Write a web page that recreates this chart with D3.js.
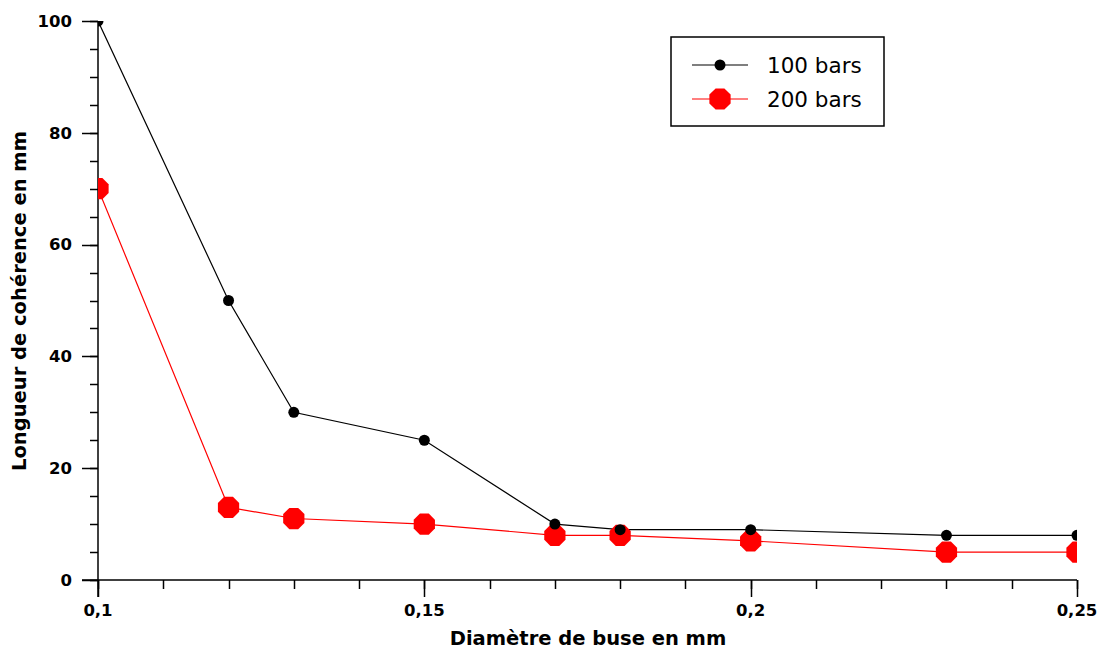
<!DOCTYPE html>
<html><head><meta charset="utf-8">
<script src="https://cdn.jsdelivr.net/npm/d3@7"></script>
<style>body{margin:0;background:#fff}svg{display:block}</style>
</head><body>
<svg id="c" width="1101" height="653"></svg>
<script>
const xValues = [0.1, 0.12, 0.13, 0.15, 0.17, 0.18, 0.2, 0.23, 0.25];
const series100 = [100, 50, 30, 25, 10, 9, 9, 8, 8];
const series200 = [70, 13, 11, 10, 8, 8, 7, 5, 5];
const seriesNames = ["100 bars", "200 bars"];
const xTickValues = [0.1, 0.15, 0.2, 0.25];
const xTickLabels = ["0,1", "0,15", "0,2", "0,25"];
const yTickValues = [0, 20, 40, 60, 80, 100];
const xTitle = "Diamètre de buse en mm";
const yTitle = "Longueur de cohérence en mm";

const svg = d3.select("#c");
const L = 98, R = 1077, T = 21, B = 580;
const x = d3.scaleLinear().domain([0.1, 0.25]).range([L, R]);
const y = d3.scaleLinear().domain([0, 100]).range([B, T]);
const tickFont = "'DejaVu Sans', Verdana, sans-serif";

// minor ticks
const xMinor = d3.range(0, 16).map(i => 0.1 + i * 0.01);
const yMinor = d3.range(0, 21).map(i => i * 5);

const gx = svg.append("g").attr("transform", `translate(0,${B})`);
gx.append("line").attr("x1", L - 16).attr("x2", R).attr("y1", 0).attr("y2", 0).attr("stroke", "#000").attr("stroke-width", 1.5);
gx.selectAll("line.mn").data(xMinor).join("line").attr("class", "mn")
  .attr("x1", d => Math.round(x(d)) + 0.5).attr("x2", d => Math.round(x(d)) + 0.5)
  .attr("y1", 0).attr("y2", 9).attr("stroke", "#000").attr("stroke-width", 1.5);
gx.selectAll("line.mj").data(xTickValues).join("line").attr("class", "mj")
  .attr("x1", d => Math.round(x(d)) + 0.5).attr("x2", d => Math.round(x(d)) + 0.5)
  .attr("y1", 0).attr("y2", 17).attr("stroke", "#000").attr("stroke-width", 1.5);
gx.selectAll("text").data(xTickValues).join("text")
  .attr("x", d => x(d)).attr("y", 36).attr("text-anchor", "middle")
  .attr("font-family", tickFont).attr("font-weight", "bold").attr("font-size", 16.5)
  .text((d, i) => xTickLabels[i]);

const gy = svg.append("g").attr("transform", `translate(${L},0)`);
gy.append("line").attr("x1", 0).attr("x2", 0).attr("y1", T).attr("y2", B + 17).attr("stroke", "#000").attr("stroke-width", 1.5);
gy.selectAll("line.mn").data(yMinor).join("line").attr("class", "mn")
  .attr("y1", d => Math.round(y(d)) + 0.5).attr("y2", d => Math.round(y(d)) + 0.5)
  .attr("x1", 0).attr("x2", -8).attr("stroke", "#000").attr("stroke-width", 1.5);
gy.selectAll("line.mj").data(yTickValues).join("line").attr("class", "mj")
  .attr("y1", d => Math.round(y(d)) + 0.5).attr("y2", d => Math.round(y(d)) + 0.5)
  .attr("x1", 0).attr("x2", -16).attr("stroke", "#000").attr("stroke-width", 1.5);
gy.selectAll("text").data(yTickValues).join("text")
  .attr("x", -26).attr("y", d => y(d)).attr("dy", "0.35em").attr("text-anchor", "end")
  .attr("font-family", tickFont).attr("font-weight", "bold").attr("font-size", 16.5)
  .text(d => d);

svg.append("text").attr("x", 588).attr("y", 645).attr("text-anchor", "middle")
  .attr("font-family", tickFont).attr("font-weight", "bold").attr("font-size", 19.5).text(xTitle);
svg.append("text").attr("transform", "translate(26,301) rotate(-90)").attr("text-anchor", "middle")
  .attr("font-family", tickFont).attr("font-weight", "bold").attr("font-size", 19.5).text(yTitle);

svg.append("clipPath").attr("id", "clip").append("rect")
  .attr("x", L).attr("y", T).attr("width", R - L).attr("height", B - T);
const plot = svg.append("g").attr("clip-path", "url(#clip)");

function octagon(r) {
  const pts = d3.range(8).map(i => {
    const a = Math.PI / 8 + i * Math.PI / 4;
    return [r * Math.cos(a), r * Math.sin(a)];
  });
  return "M" + pts.map(p => p.join(",")).join("L") + "Z";
}
const line = d3.line().x(d => x(d[0])).y(d => y(d[1]));
const data200 = xValues.map((v, i) => [v, series200[i]]);
const data100 = xValues.map((v, i) => [v, series100[i]]);

plot.append("path").datum(data200).attr("d", line).attr("fill", "none").attr("stroke", "#ff0000").attr("stroke-width", 1.2);
plot.append("path").datum(data100).attr("d", line).attr("fill", "none").attr("stroke", "#000").attr("stroke-width", 1.2);
plot.selectAll("path.m200").data(data200).join("path").attr("class", "m200")
  .attr("transform", d => `translate(${x(d[0])},${y(d[1])})`).attr("d", octagon(11.5)).attr("fill", "#ff0000");
plot.selectAll("circle.m100").data(data100).join("circle").attr("class", "m100")
  .attr("cx", d => x(d[0])).attr("cy", d => y(d[1])).attr("r", 5.5).attr("fill", "#000");

// legend
const lg = svg.append("g");
lg.append("rect").attr("x", 671).attr("y", 37).attr("width", 213).attr("height", 89)
  .attr("fill", "#fff").attr("stroke", "#000").attr("stroke-width", 1.5);
const legendItems = [
  {name: seriesNames[0], color: "#000", y: 65},
  {name: seriesNames[1], color: "#ff0000", y: 99}
];
legendItems.forEach((it, i) => {
  lg.append("line").attr("x1", 692).attr("x2", 748).attr("y1", it.y).attr("y2", it.y).attr("stroke", it.color).attr("stroke-width", 1.2);
  if (i === 0) lg.append("circle").attr("cx", 720).attr("cy", it.y).attr("r", 5.5).attr("fill", "#000");
  else lg.append("path").attr("transform", `translate(720,${it.y})`).attr("d", octagon(11.5)).attr("fill", "#ff0000");
  lg.append("text").attr("x", 767).attr("y", it.y).attr("dy", "0.36em")
    .attr("font-family", tickFont).attr("font-size", 21.5).text(it.name);
});
</script>
</body></html>
